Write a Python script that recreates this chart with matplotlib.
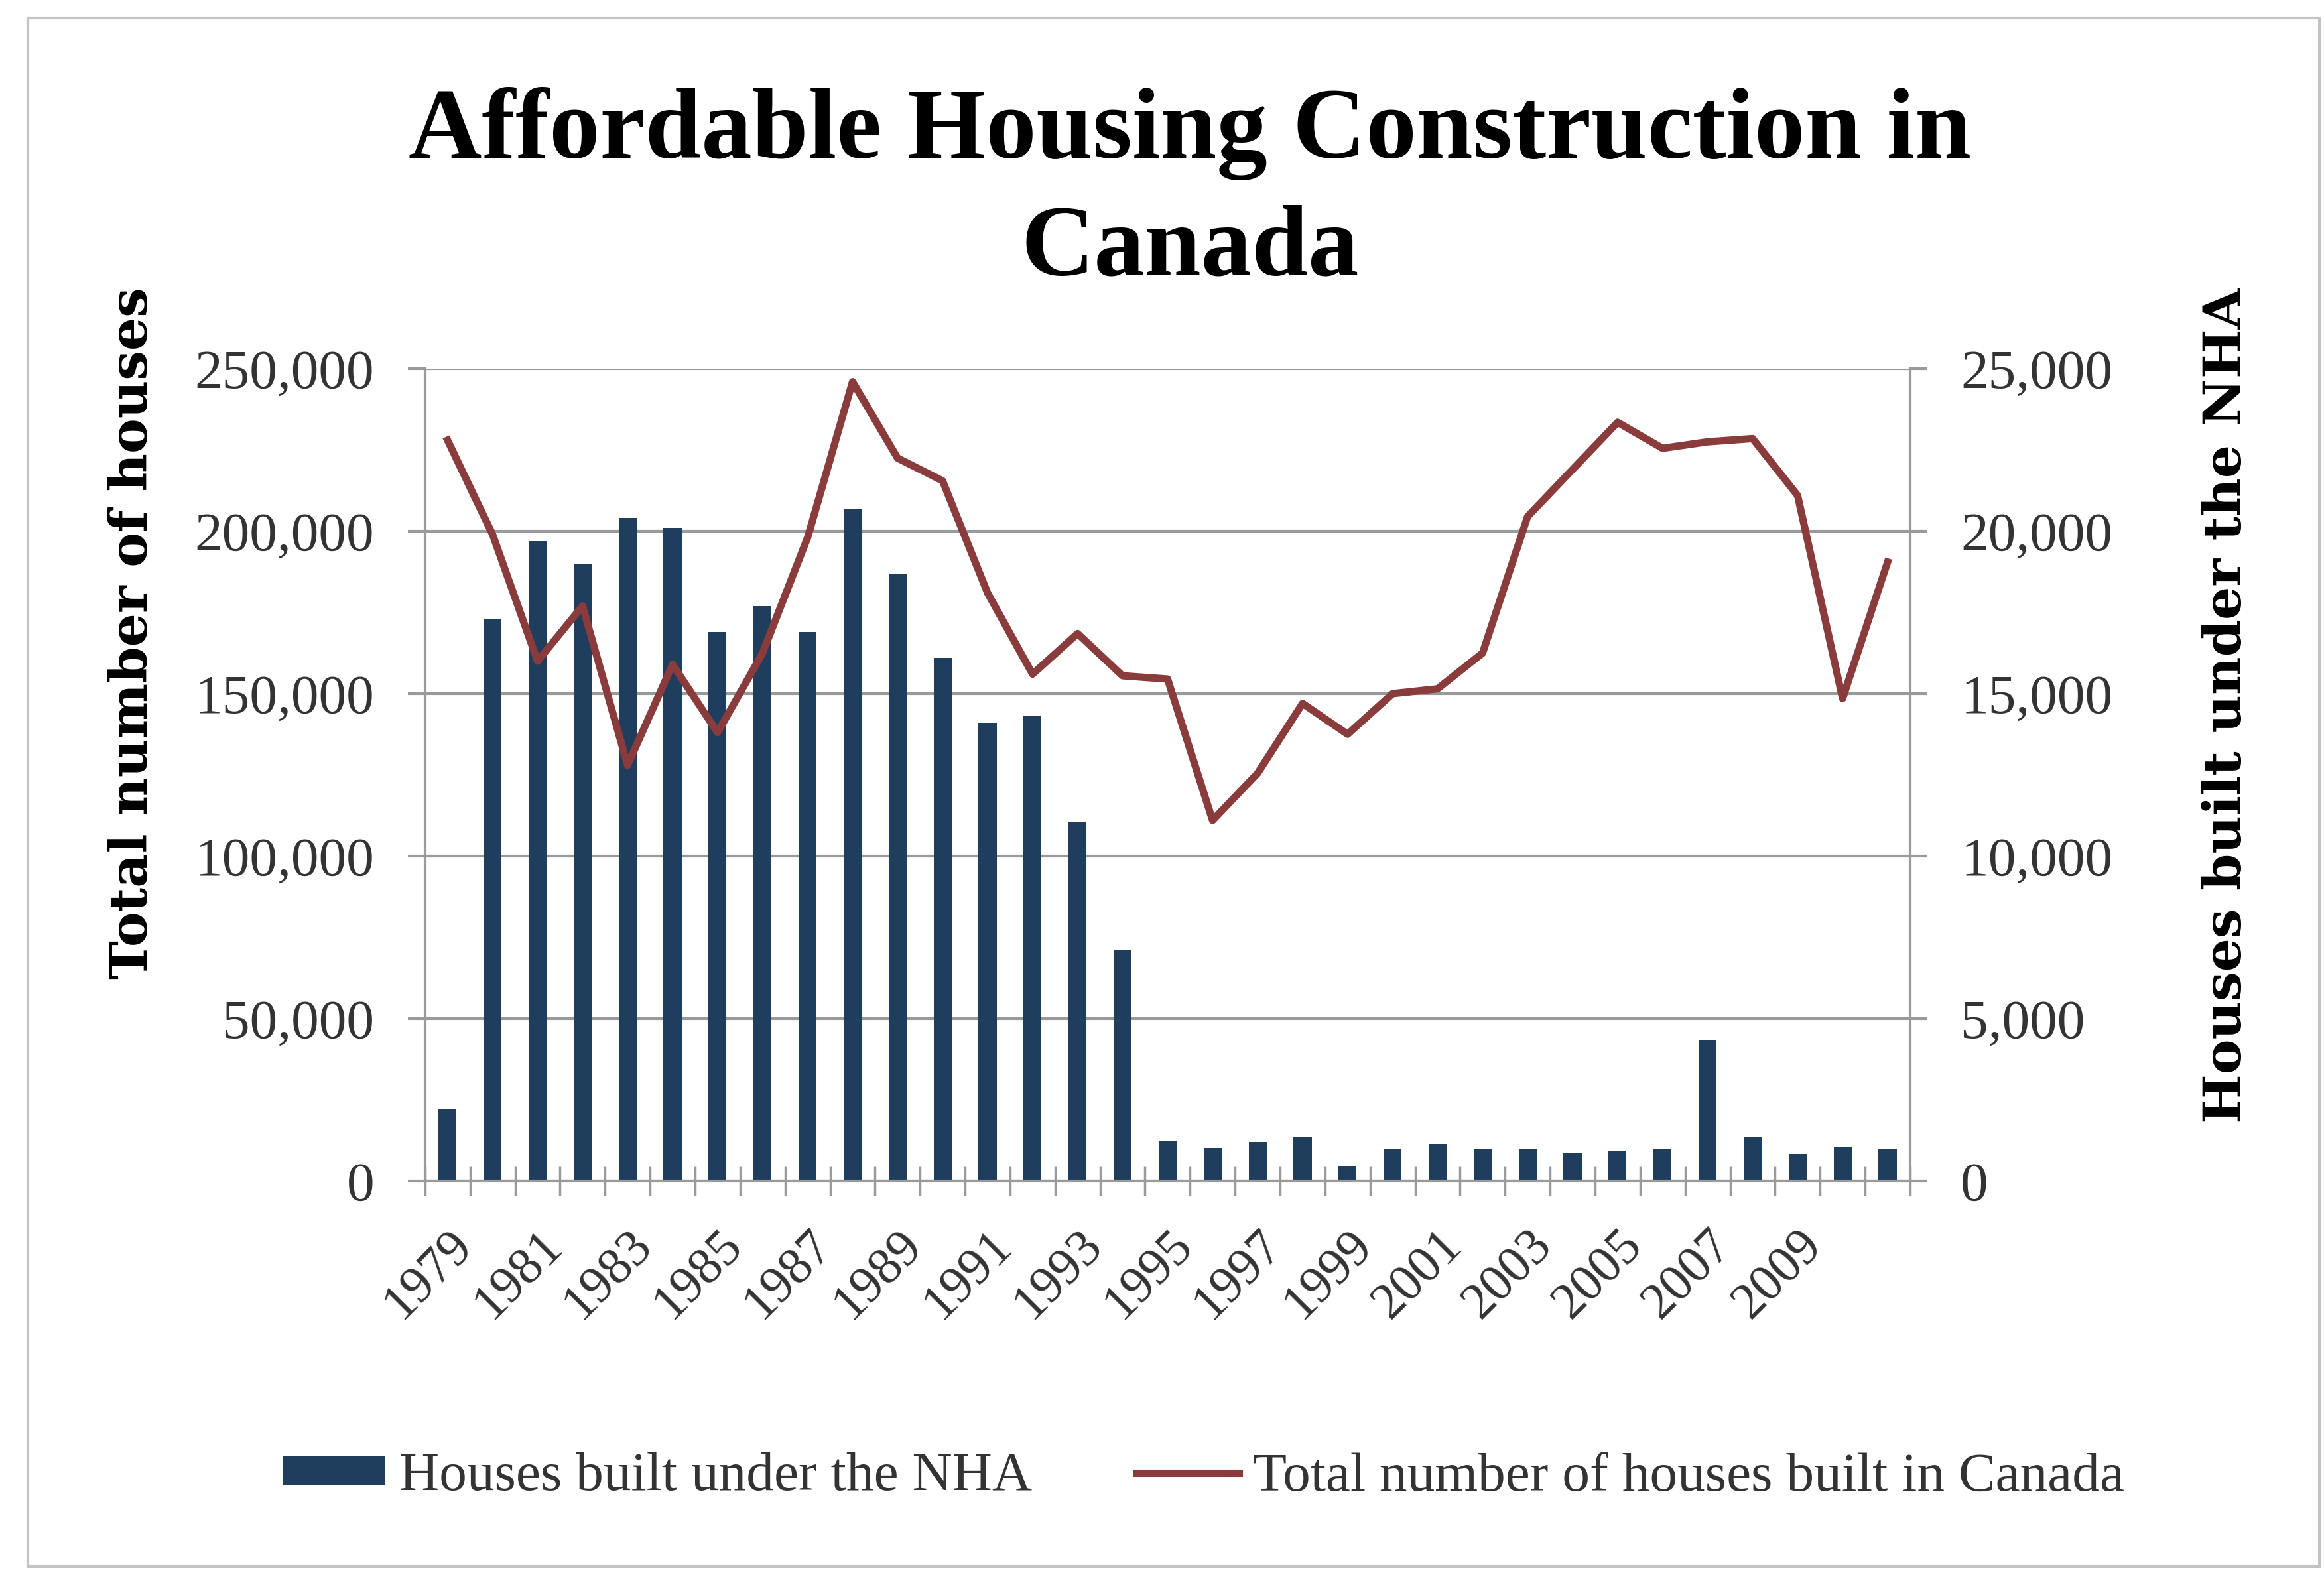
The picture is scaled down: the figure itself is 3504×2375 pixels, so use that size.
import numpy as np
import matplotlib.pyplot as plt
from matplotlib.patches import Rectangle, Patch
from matplotlib.lines import Line2D
from matplotlib.ticker import FuncFormatter, FixedLocator
from matplotlib.transforms import ScaledTranslation


years = list(range(1979, 2012))

# houses built under the NHA (right axis)
nha_houses = [2200, 17300, 19700, 19000, 20400, 20100, 16900, 17700, 16900, 20700,
              18700, 16100, 14100, 14300, 11050, 7100, 1250, 1020, 1200, 1370,
              440, 970, 1150, 970, 970, 880, 920, 970, 4320, 1370,
              830, 1060, 970]

# total number of houses built in Canada (left axis)
total_houses = [228000, 199000, 160000, 177000, 128000, 159000, 138000, 162500, 198000, 246000,
                222500, 215500, 181000, 156000, 168500, 155500, 154500, 111000, 125500, 147000,
                137500, 150000, 151500, 162500, 204500, 219000, 233500, 225500, 227500, 228500,
                211000, 148500, 190500]

tick_years = [str(y) for y in years[::2]][:16]

navy = '#1f3d5c'
brick = '#8a3b3b'
grid_gray = '#9a9a9a'
text_gray = '#333333'
serif = 'Liberation Serif'
bold_serif = 'DejaVu Serif'

fig = plt.figure(figsize=(35.04, 23.75), dpi=100)
fig.patch.set_facecolor('white')

# light frame around the chart area
fig.patches.append(Rectangle((0.012, 0.0055), 0.986, 0.983, transform=fig.transFigure,
                             fill=False, edgecolor='#c4c4c4', linewidth=3))

ax = fig.add_axes([0.1829, 0.2501, 0.639, 0.5158])
ax2 = ax.twinx()

x = np.arange(len(years))

# bars on the right axis, drawn underneath
ax2.bar(x, nha_houses, width=0.4, color=navy, zorder=2)
ax2.set_ylim(0, 25000)
ax2.set_yticks(np.arange(0, 25001, 5000))
ax2.yaxis.set_major_formatter(FuncFormatter(lambda v, p: f'{int(v):,}'))
ax2.grid(axis='y', color=grid_gray, linewidth=3, zorder=0)
ax2.set_axisbelow(True)

# line on the left axis, on top
ax.plot(x, total_houses, color=brick, linewidth=8, zorder=3)
ax.set_ylim(0, 250000)
ax.set_yticks(np.arange(0, 250001, 50000))
ax.yaxis.set_major_formatter(FuncFormatter(lambda v, p: f'{int(v):,}'))
ax.set_zorder(ax2.get_zorder() + 1)
ax.patch.set_visible(False)

ax.set_xlim(-0.5, len(years) - 0.5)
ax.set_xticks(x[::2][:16])
ax.set_xticklabels(tick_years, rotation=45, ha='right', va='top', rotation_mode='anchor',
                   fontsize=56, family=serif, color=text_gray)
shift = ScaledTranslation(12 / 72, 0, fig.dpi_scale_trans)
for lbl in ax.get_xticklabels():
    lbl.set_transform(lbl.get_transform() + shift)
ax.xaxis.set_minor_locator(FixedLocator(np.arange(-0.5, len(years), 1.0)))
ax.tick_params(axis='x', which='major', length=0, pad=44)
ax.tick_params(axis='x', which='minor', direction='inout', length=32, width=2.5, color=grid_gray)

for a in (ax, ax2):
    for s in a.spines.values():
        s.set_visible(False)
for a, side in ((ax, 'left'), (ax, 'bottom'), (ax2, 'right')):
    a.spines[side].set_visible(True)
    a.spines[side].set_color(grid_gray)
    a.spines[side].set_linewidth(3)

ax.tick_params(axis='y', direction='out', length=19, width=3, color=grid_gray, pad=36)
ax2.tick_params(axis='y', direction='out', length=19, width=3, color=grid_gray, pad=36)
for lbl in ax.get_yticklabels() + ax2.get_yticklabels():
    lbl.set_fontsize(60)
    lbl.set_family(serif)
    lbl.set_color(text_gray)

fig.text(0.512, 0.8998, 'Affordable Housing Construction in', ha='center', va='baseline',
         fontsize=110, fontweight='bold', family=serif)
fig.text(0.512, 0.8253, 'Canada', ha='center', va='baseline',
         fontsize=110, fontweight='bold', family=serif)

fig.text(0.057, 0.598, 'Total number of houses', rotation=90, ha='center', va='center',
         fontsize=57, fontweight='bold', family=bold_serif)
fig.text(0.958, 0.552, 'Houses built under the NHA', rotation=90, ha='center', va='center',
         fontsize=57, fontweight='bold', family=bold_serif)

handles = [Patch(facecolor=navy, edgecolor='none'),
           Line2D([0], [0], color=brick, linewidth=8)]
labels = ['Houses built under the NHA', 'Total number of houses built in Canada']
fig.legend(handles, labels, loc='center', bbox_to_anchor=(0.518, 0.062), ncol=2, frameon=False,
           prop={'family': serif, 'size': 60}, handlelength=1.85, handleheight=0.45,
           handletextpad=0.25, columnspacing=1.9, labelcolor=text_gray)

fig.savefig('out.png', dpi=100)
